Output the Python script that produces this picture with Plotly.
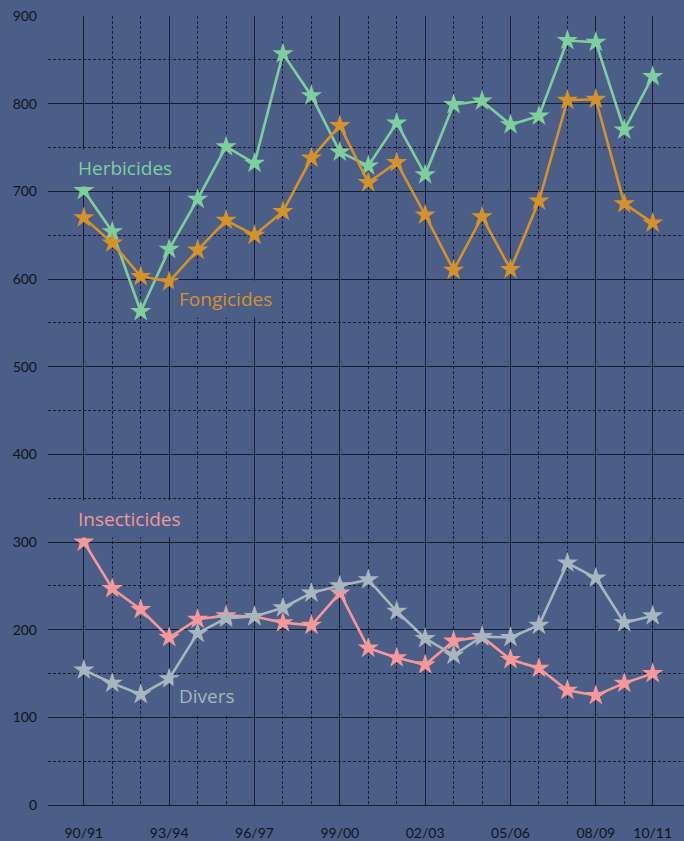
import plotly.graph_objects as go

seasons = ["90/91", "91/92", "92/93", "93/94", "94/95", "95/96", "96/97", "97/98",
           "98/99", "99/00", "00/01", "01/02", "02/03", "03/04", "04/05", "05/06",
           "06/07", "07/08", "08/09", "09/10", "10/11"]

herbicides = [701, 654, 563, 634, 691, 751, 732, 857, 809, 745, 729, 778, 719,
              799, 803, 776, 786, 872, 870, 770, 831]
fongicides = [670, 641, 603, 597, 633, 667, 650, 677, 738, 775, 710, 733, 673,
              610, 671, 611, 689, 804, 805, 686, 664]
insecticides = [300, 247, 223, 191, 212, 216, 215, 208, 205, 242, 179, 168, 160,
                187, 192, 166, 156, 131, 125, 139, 150]
divers = [154, 139, 126, 144, 196, 213, 215, 225, 242, 250, 257, 221, 190,
          171, 192, 191, 205, 276, 259, 208, 216]

major_labels = ["90/91", "93/94", "96/97", "99/00", "02/03", "05/06", "08/09", "10/11"]

BG = "#4a5e88"
GRID = "#171d2e"
series = [
    ("Herbicides", herbicides, "#7fcf9c"),
    ("Fongicides", fongicides, "#d4922c"),
    ("Insecticides", insecticides, "#f4989a"),
    ("Divers", divers, "#a7b6bf"),
]

x = list(range(len(seasons)))
fig = go.Figure()
for name, vals, col in series:
    fig.add_trace(go.Scatter(
        x=x, y=vals, mode="lines+markers", name=name,
        line=dict(color=col, width=2.6),
        marker=dict(symbol="star", size=16, color=col, line=dict(width=0)),
        showlegend=False,
    ))

major_idx = [seasons.index(s) for s in major_labels]
minor_idx = [i for i in x if i not in major_idx]

fig.update_xaxes(
    range=[-1.26, 21.1],
    tickmode="array", tickvals=major_idx, ticktext=major_labels,
    showgrid=True, gridcolor=GRID, gridwidth=1.2,
    minor=dict(tickmode="array", tickvals=minor_idx, showgrid=True,
               gridcolor=GRID, griddash="3px,2px", gridwidth=1),
    zeroline=False, showline=False, ticks="", ticklabelstandoff=18,
    tickfont=dict(family="Lato", size=14, color="#10131c"),
)
fig.update_yaxes(
    range=[0, 900],
    tickmode="linear", tick0=0, dtick=100,
    showgrid=True, gridcolor=GRID, gridwidth=1.2,
    minor=dict(tick0=0, dtick=50, showgrid=True, gridcolor=GRID,
               griddash="3px,2px", gridwidth=1),
    zeroline=True, zerolinecolor=GRID, zerolinewidth=1.2,
    showline=False, ticks="", ticklabelstandoff=10,
    tickfont=dict(family="Lato", size=14, color="#10131c"),
)

labels = [
    ("Herbicides", -0.4, 727, "#7fcf9c"),
    ("Fongicides", 3.12, 577, "#d4922c"),
    ("Insecticides", -0.4, 326, "#f4989a"),
    ("Divers", 3.12, 124, "#a7b6bf"),
]
for text, xa, ya, col in labels:
    fig.add_annotation(x=xa, y=ya, text=text, showarrow=False, xanchor="left",
                       yanchor="middle", bgcolor=BG, borderpad=5,
                       font=dict(family="Open Sans", size=19, color=col))

fig.update_layout(
    width=684, height=841,
    margin=dict(l=48, r=0, t=16, b=36),
    paper_bgcolor=BG, plot_bgcolor=BG,
)

fig.write_html("out.html", config={"displayModeBar": False},
               post_script="document.body.style.margin='0';document.body.style.background='%s';" % BG)
